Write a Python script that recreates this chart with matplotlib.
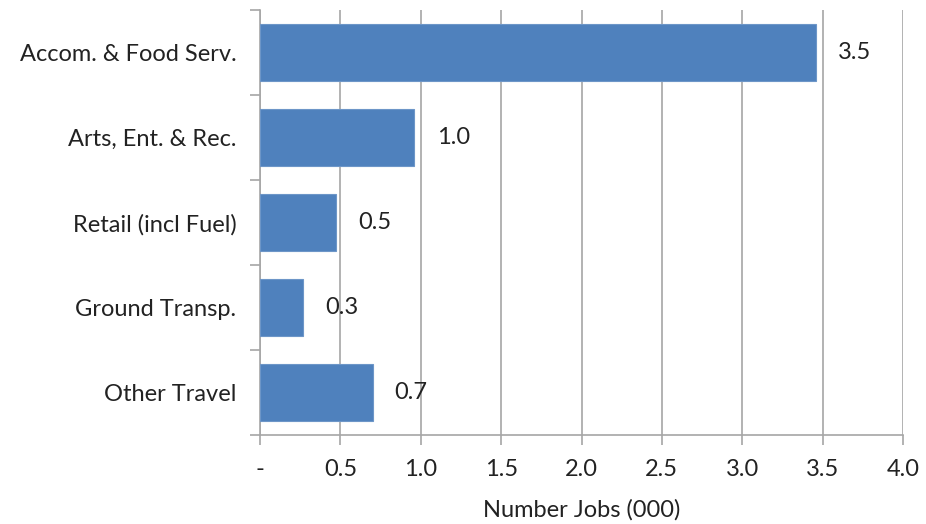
import matplotlib.pyplot as plt
from matplotlib.ticker import FixedLocator

categories = ['Accom. & Food Serv.', 'Arts, Ent. & Rec.', 'Retail (incl Fuel)',
              'Ground Transp.', 'Other Travel']
jobs = [3.46, 0.96, 0.47, 0.27, 0.70]
labels = ['3.5', '1.0', '0.5', '0.3', '0.7']
xticks = [0, 0.5, 1.0, 1.5, 2.0, 2.5, 3.0, 3.5, 4.0]
xtick_labels = ['-', '0.5', '1.0', '1.5', '2.0', '2.5', '3.0', '3.5', '4.0']

plt.rcParams['font.family'] = ['Lato', 'DejaVu Sans']
grey = '#a6a6a6'
fs = 17

fig = plt.figure(figsize=(9.26, 5.24), dpi=100)
ax = fig.add_axes([260 / 926, 89 / 524, 643 / 926, 425 / 524])

pos = list(range(len(categories)))
bars = ax.barh(pos, jobs, height=0.66, color='#4f81bd', edgecolor='#6d96c8',
               linewidth=0.8, zorder=3)
for b, t in zip(bars, labels):
    ax.annotate(t, (b.get_width(), b.get_y() + b.get_height() / 2),
                xytext=(16, 0), textcoords='offset points',
                va='center', ha='left', fontsize=fs, color='#222222')

ax.set_xlim(0, 4.0)
ax.set_ylim(len(categories) - 0.5, -0.5)
ax.set_xticks(xticks)
ax.set_xticklabels(xtick_labels)
ax.set_yticks(pos)
ax.set_yticklabels(categories)
ax.yaxis.set_minor_locator(FixedLocator([i - 0.5 for i in range(len(categories) + 1)]))

ax.tick_params(axis='y', which='major', length=0, pad=17, labelsize=fs, labelcolor='#222222')
ax.tick_params(axis='y', which='minor', length=7, direction='out', color=grey, width=1.2)
ax.tick_params(axis='x', length=7, direction='out', color=grey, width=1.2,
               pad=10, labelsize=fs, labelcolor='#222222')

ax.grid(axis='x', color=grey, linewidth=1.2, zorder=0)
for s in ['top', 'right']:
    ax.spines[s].set_visible(False)
for s in ['left', 'bottom']:
    ax.spines[s].set_color(grey)
    ax.spines[s].set_linewidth(1.2)

ax.set_xlabel('Number Jobs (000)', fontsize=fs, color='#222222', labelpad=14)

fig.savefig('out.png', dpi=100)
